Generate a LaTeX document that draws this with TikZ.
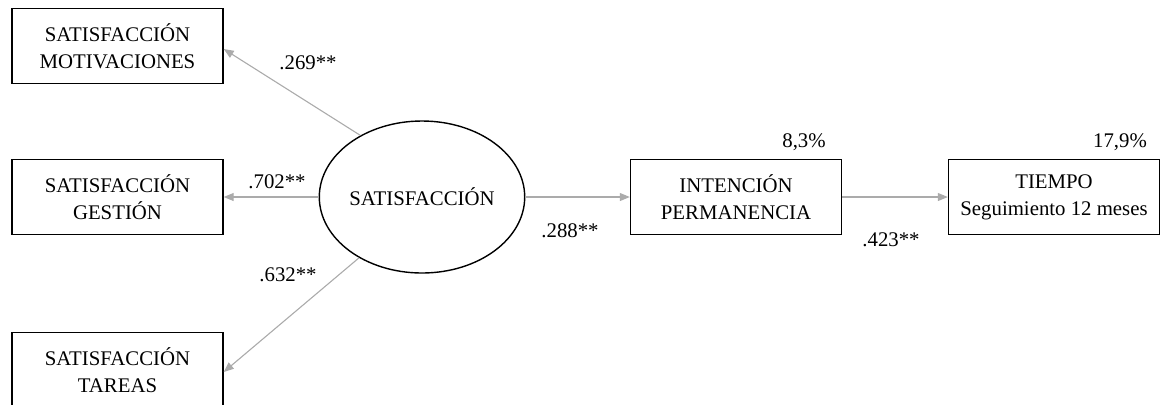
\documentclass[tikz,border=0pt]{standalone}
\usepackage{fontspec}
\setmainfont{Liberation Serif}
\usetikzlibrary{arrows.meta,shapes.geometric}

\begin{document}
\begin{tikzpicture}[
x=0.5pt, y=-0.5pt,
box/.style={rectangle, draw=black, line width=0.7pt, minimum width=105.5pt, minimum height=37.5pt, align=center, inner sep=2pt},
latent/.style={ellipse, draw=black, line width=0.7pt, minimum width=100pt, minimum height=76pt, inner sep=0pt},
path/.style={draw=black!33, line width=0.55pt, -{Triangle[length=5pt, width=4pt]}},
coef/.style={inner sep=0pt},
font=\fontsize{10.4}{13.5}\selectfont,
]
\useasboundingbox (0,0) rectangle (1160,404);
%Nodes
\node[latent] (sat) at (422,197) {SATISFACCIÓN};
\node[box, left of=sat, node distance=152.25pt] (gest) {SATISFACCIÓN\\GESTIÓN};
\node[box, above of=gest, node distance=75.5pt] (motiv) {SATISFACCIÓN\\MOTIVACIONES};
\node[box, below of=gest, node distance=86.5pt] (tareas) {SATISFACCIÓN\\TAREAS};
\node[box, right of=sat, node distance=157pt] (intencion) {INTENCIÓN\\PERMANENCIA};
\node[box, right of=intencion, node distance=159pt] (tiempo) {TIEMPO\\Seguimiento 12 meses};
\node[coef] (r2int) at (804,142) {8,3\%};
\node[coef] (r2tiem) at (1120,142) {17,9\%};
\node[coef] (cmotiv) at (308,63) {.269**};
\node[coef] (cgest) at (277,182) {.702**};
\node[coef] (ctareas) at (288,275) {.632**};
\node[coef] (cint) at (570,231) {.288**};
\node[coef] (ctiem) at (891,240) {.423**};

%Lines
\draw[path] (sat.135) -- ([yshift=-1.5pt]motiv.east);
\draw[path] (sat.west) -- (gest.east);
\draw[path] (sat.224) -- ([yshift=-1pt]tareas.east);
\draw[path] (sat.east) -- (intencion.west);
\draw[path] (intencion.east) -- (tiempo.west);

\end{tikzpicture}
\end{document}
